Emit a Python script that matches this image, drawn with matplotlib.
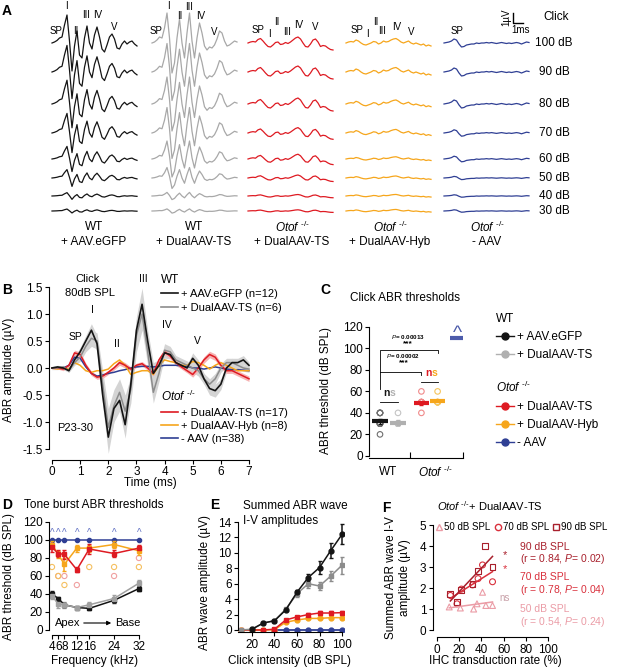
import numpy as np
import matplotlib
matplotlib.use("Agg")
import matplotlib.pyplot as plt
from matplotlib.lines import Line2D
from matplotlib.patches import FancyArrowPatch

plt.rcParams['font.family'] = ['Liberation Sans', 'DejaVu Sans']
plt.rcParams['font.size'] = 8
plt.rcParams['axes.unicode_minus'] = False
plt.rcParams['mathtext.fontset'] = 'custom'
plt.rcParams['mathtext.rm'] = 'Liberation Sans'
plt.rcParams['mathtext.it'] = 'Liberation Sans:italic'
plt.rcParams['mathtext.bf'] = 'Liberation Sans:bold'
plt.rcParams['axes.linewidth'] = 0.8

W, H = 619, 669

BLACK = "#141414"
GRAY = "#a8a8a8"
RED = "#de1a22"
ORANGE = "#f6a61c"
BLUE = "#2f3f94"
OTOF = r"$\mathit{Otof}^{\ \mathrm{‐/‐}}$"

# ---------------- panel A: example traces at 100 dB (uV) + gain per level
a_time = np.arange(0, 8.51, 0.25)
a_levels = ["100 dB", "90 dB", "80 dB", "70 dB", "60 dB", "50 dB", "40 dB", "30 dB"]
a_black = [0.0, 0.1, 0.25, 0.5, 0.6, 1.8, 2.8, 0.2, -2.8, -0.3, 1.2, -1.2, -1.5, 0.5, 1.7, 0.0, -0.6, 0.8,
           1.6, 0.6, -0.6, -0.9, -0.2, 0.6, 0.9, 0.4, -0.5, -0.6, -0.1, 0.2, -0.1, 0.1, 0.2, -0.1, -0.3]
a_gray = [0.0, 0.1, 0.3, 0.6, 0.5, 1.5, 3.0, 0.5, -3.0, -2.0, 0.5, 2.4, 0.0, -1.5, 1.0, 3.0, 0.2, -1.5,
          0.5, 2.0, 1.0, -0.3, -0.7, -0.4, -0.5, -0.2, 0.4, 1.2, 1.0, 0.2, -0.3, -0.2, 0.0, 0.2, 0.1]
a_red = [0.0, 0.1, 0.15, 0.1, 0.35, 0.45, 0.2, -0.1, -0.35, -0.4, -0.2, 0.05, 0.1, -0.15, -0.1, 0.05, -0.05,
         0.1, 0.3, 0.5, 0.6, 0.4, 0.0, -0.35, -0.4, -0.1, 0.3, 0.4, 0.1, -0.35, -0.25, -0.3, -0.5, -0.65, -0.7]
a_yellow = [0.0, 0.1, 0.15, 0.1, 0.3, 0.2, 0.0, -0.15, -0.2, -0.1, 0.0, 0.15, 0.1, -0.1, 0.0, 0.2, 0.1,
            0.15, 0.3, 0.4, 0.45, 0.3, 0.1, 0.0, 0.1, 0.2, 0.0, -0.1, 0.0, -0.1, -0.2, -0.1, -0.3, -0.2, -0.3]
a_blue = [0.0, 0.05, 0.1, 0.2, 0.4, 0.3, -0.1, -0.4, -0.35, -0.2, -0.15, -0.1, -0.1, 0.0, -0.05, 0.0, 0.0,
          0.05, 0.0, 0.05, 0.0, -0.05, 0.0, 0.05, 0.0, -0.05, 0.0, -0.05, 0.0, 0.05, 0.0, -0.1, 0.0, 0.1, 0.05]
a_gain_black = [1.0, 0.95, 0.85, 0.7, 0.45, 0.3, 0.12, 0.07]
a_gain_gray = [1.0, 0.95, 0.9, 0.85, 0.6, 0.35, 0.12, 0.07]
a_gain_red = [1.0, 1.0, 1.0, 0.9, 0.8, 0.5, 0.25, 0.2]
a_gain_yellow = [1.0, 1.0, 0.9, 0.8, 0.5, 0.45, 0.35, 0.35]
a_gain_blue = [1.0, 1.0, 1.0, 0.8, 0.7, 0.4, 0.3, 0.3]

# ---------------- panel B: mean click ABR at 80 dB (uV)
b_time = np.arange(0, 7.01, 0.2)
b_black = [0.0, 0.02, 0.0, -0.05, 0.15, 0.3, 0.5, 0.7, 0.45, -0.5, -1.28, -0.75, -0.6, -1.05, -0.3, 0.7, 1.18, 0.5,
           -0.1, 0.05, 0.28, 0.25, 0.1, 0.05, 0.0, 0.18, 0.05, -0.2, -0.38, -0.42, -0.3, 0.0, 0.1, 0.1, 0.15, 0.05]
b_black_sem = [0.03, 0.03, 0.03, 0.03, 0.05, 0.08, 0.1, 0.12, 0.15, 0.2, 0.3, 0.25, 0.2, 0.25, 0.2, 0.25, 0.3, 0.2,
               0.2, 0.1, 0.1, 0.08, 0.06, 0.06, 0.06, 0.1, 0.1, 0.1, 0.12, 0.12, 0.1, 0.08, 0.08, 0.08, 0.08, 0.06]
b_gray = [0.0, 0.0, 0.02, -0.05, 0.1, 0.2, 0.4, 0.55, 0.5, -0.3, -1.1, -0.7, -0.45, -0.8, -0.4, 0.6, 1.0, 0.3,
          -0.45, -0.1, 0.33, 0.3, 0.15, 0.1, 0.05, 0.0, -0.05, -0.2, -0.3, -0.2, 0.0, 0.1, 0.1, 0.05, 0.0, -0.02]
b_gray_sem = [0.03, 0.03, 0.03, 0.03, 0.05, 0.08, 0.1, 0.15, 0.15, 0.25, 0.35, 0.3, 0.25, 0.3, 0.25, 0.3, 0.3, 0.25,
              0.2, 0.15, 0.12, 0.1, 0.08, 0.08, 0.08, 0.08, 0.1, 0.1, 0.1, 0.1, 0.08, 0.08, 0.08, 0.06, 0.06, 0.06]
b_red = [0.0, 0.0, -0.02, 0.05, 0.28, 0.25, 0.05, -0.1, -0.17, -0.15, -0.08, 0.0, 0.1, 0.05, -0.02, 0.05, 0.08, 0.0,
         -0.1, 0.15, 0.3, 0.22, 0.1, 0.02, -0.05, -0.12, 0.0, 0.15, 0.25, 0.2, 0.05, -0.05, -0.05, -0.1, -0.15, -0.2]
b_red_sem = [0.02, 0.02, 0.03, 0.03, 0.05, 0.05, 0.04, 0.04, 0.04, 0.04, 0.04, 0.04, 0.05, 0.05, 0.04, 0.04, 0.04, 0.04,
             0.05, 0.05, 0.05, 0.05, 0.04, 0.04, 0.04, 0.05, 0.05, 0.06, 0.06, 0.06, 0.05, 0.05, 0.05, 0.05, 0.05, 0.05]
b_yellow = [0.0, -0.02, 0.0, -0.02, 0.1, 0.05, -0.05, -0.08, -0.05, -0.05, -0.02, 0.08, 0.15, 0.05, -0.12, -0.08, -0.05,
            -0.05, -0.12, 0.05, 0.15, 0.12, 0.1, 0.05, 0.05, 0.12, 0.1, 0.05, -0.02, 0.05, 0.1, 0.05, 0.0, -0.05, -0.05, -0.05]
b_blue = [0.0, 0.0, 0.0, 0.05, 0.2, 0.18, 0.02, -0.1, -0.15, -0.13, -0.1, -0.08, -0.05, -0.03, 0.0, 0.02, 0.03, 0.03,
          0.02, 0.03, 0.05, 0.05, 0.05, 0.04, 0.03, 0.0, 0.0, -0.02, 0.0, 0.02, 0.0, -0.02, -0.03, -0.03, -0.04, -0.05]

# ---------------- panel C: click thresholds (dB SPL)
c_black_pts = [40, 40, 40, 40, 30, 30, 30, 30, 30, 20]
c_gray_pts = [40, 30, 30, 30, 30, 30]
c_red_pts = [60, 50, 50, 50, 50, 50, 50, 40]
c_yellow_pts = [60, 50, 50, 50, 50, 50]
c_means = [32, 31, 49, 51, 110]
c_sems = [2.5, 2.0, 1.5, 1.0, 0.0]

# ---------------- panel D: tone burst thresholds (dB SPL)
d_freq = [4, 6, 8, 12, 16, 24, 32]
d_black = [40, 35, 28, 25, 24, 33, 46]
d_black_err = [3, 2, 2, 1, 2, 3, 3]
d_gray = [38, 29, 28, 25, 28, 35, 52]
d_gray_err = [3, 4, 3, 2, 3, 4, 4]
d_red = [92, 85, 84, 67, 90, 85, 91]
d_red_err = [5, 4, 5, 3, 6, 4, 4]
d_yellow = [95, 84, 73, 91, 91, 95, 88]
d_yellow_err = [4, 4, 7, 4, 4, 4, 5]
d_blue = [100, 100, 100, 100, 100, 100, 100]
d_red_pts_f = [6, 8, 12, 24, 32]
d_red_pts = [60, 60, 50, 60, 80]
d_yel_pts_f = [4, 6, 8, 16, 24, 32]
d_yel_pts = [70, 60, 50, 70, 70, 70]

# ---------------- panel E: summed wave I-V amplitude (uV)
e_lvl = [10, 20, 30, 40, 50, 60, 70, 80, 90, 100]
e_black = [None, 0.1, 0.9, 1.2, 2.6, 4.9, 6.8, 8.1, 10.3, 12.4]
e_black_err = [0, 0.05, 0.1, 0.1, 0.15, 0.3, 0.5, 0.9, 1.0, 1.3]
e_gray = [0.0, 0.1, 0.9, 1.2, 2.7, 4.7, 6.0, 5.7, 7.0, 8.4]
e_gray_err = [0.03, 0.05, 0.1, 0.1, 0.2, 0.4, 0.6, 0.5, 0.7, 1.1]
e_red = [0.0, 0.0, 0.0, 0.1, 1.3, 1.7, 2.0, 2.2, 2.2, 2.25]
e_red_err = [0, 0, 0, 0.05, 0.15, 0.15, 0.15, 0.2, 0.2, 0.2]
e_yellow = [0.0, 0.0, 0.0, 0.05, 1.0, 1.3, 1.5, 1.5, 1.6, 1.6]
e_yellow_err = [0, 0, 0, 0.03, 0.1, 0.1, 0.1, 0.1, 0.1, 0.1]
e_blue = [None, None, None, 0.0, 0.0, 0.0, 0.0, 0.0, 0.0, 0.0]

# ---------------- panel F: amplitude vs IHC transduction rate
f90_x = [12, 18, 22, 32, 37, 43, 50]
f90_y = [1.7, 1.35, 1.9, 2.2, 2.8, 4.0, 3.0]
f70_x = [12, 18, 22, 32, 37, 41, 50]
f70_y = [1.65, 1.25, 1.95, 2.15, 2.45, 3.1, 2.3]
f50_x = [11, 21, 33, 36, 41, 44, 50]
f50_y = [1.1, 1.05, 1.0, 1.25, 1.8, 1.17, 1.17]

fig = plt.figure(figsize=(W / 100, H / 100), dpi=100)


def px_axes(l, t, r, b):
    return fig.add_axes([l / W, 1 - b / H, (r - l) / W, (b - t) / H])


def ftext(x, y, s, **kw):
    kw.setdefault("ha", "center")
    kw.setdefault("va", "center")
    return fig.text(x / W, 1 - y / H, s, **kw)


def style(ax, xb, yb):
    ax.spines["top"].set_visible(False)
    ax.spines["right"].set_visible(False)
    ax.spines["bottom"].set_bounds(*xb)
    ax.spines["left"].set_bounds(*yb)
    ax.tick_params(length=3, width=0.8, pad=1.5, labelsize=8.5)


# ================= A
axA = px_axes(0, 0, W, 250)
axA.set_xlim(-5.2, 56.7)
axA.set_ylim(-20.7, 4.3)
axA.axis("off")
col_x = [0, 10, 19.6, 29.4, 39.2]
row_y = [0, -2.9, -6.1, -9.0, -11.6, -13.5, -15.3, -16.8]
groups = [(a_black, a_gain_black, BLACK), (a_gray, a_gain_gray, GRAY), (a_red, a_gain_red, RED),
          (a_yellow, a_gain_yellow, ORANGE), (a_blue, a_gain_blue, BLUE)]
for (trace, gains, color), x0 in zip(groups, col_x):
    for g, y0 in zip(gains, row_y):
        axA.plot(a_time + x0, np.array(trace) * g + y0, color=color, lw=0.9)
axA.plot([46.1, 46.1, 47.1], [3.0, 2.0, 2.0], color="k", lw=1)
ftext(506, 17, "1µV", rotation=90, fontsize=7)
ftext(521, 30, "1ms", fontsize=7)
ftext(556, 17, "Click", fontsize=8.5)
for lab, y in zip(a_levels, [43, 72, 104, 133, 159, 178, 196, 211]):
    ftext(554, y, lab, fontsize=8.5)

peak_fs = 7
for s, x, y in [("SP", 56, 31), ("I", 66, 6), ("II", 76, 31), ("III", 86, 15), ("IV", 98, 15), ("V", 114, 27),
                ("SP", 156, 31), ("I", 168, 6), ("II", 180, 16), ("III", 189, 7), ("IV", 201, 16), ("V", 214, 32),
                ("SP", 258, 30), ("I", 269, 34), ("II", 277, 22), ("III", 287, 32), ("IV", 299, 25), ("V", 315, 27),
                ("SP", 357, 30), ("I", 367, 34), ("II", 376, 22), ("III", 382, 31), ("IV", 397, 27), ("V", 411, 32),
                ("SP", 457, 31)]:
    ftext(x, y, s, fontsize=peak_fs)

for x, top, bottom in [(94, "WT", "+ AAV.eGFP"), (194, "WT", "+ DualAAV-TS"), (292, OTOF, "+ DualAAV-TS"),
                       (390, OTOF, "+ DualAAV-Hyb"), (487, OTOF, "- AAV")]:
    ftext(x, 227, top, fontsize=8.5)
    ftext(x, 242, bottom, fontsize=8.5)

# ================= B
axB = px_axes(49.2, 281.6, 250.4, 459.8)
axB.set_xlim(-0.1, 7.05)
axB.set_ylim(-1.7, 1.6)
style(axB, (0, 7), (-1.5, 1.5))
for m, s in [(b_black, b_black_sem), (b_gray, b_gray_sem)]:
    m = np.array(m); s = np.array(s)
    axB.fill_between(b_time, m - s, m + s, color="#d4d4d4", lw=0)
rm = np.array(b_red); rs = np.array(b_red_sem)
axB.fill_between(b_time, rm - rs, rm + rs, color="#f6b3b3", lw=0)
axB.plot(b_time, b_blue, color=BLUE, lw=1.1)
axB.plot(b_time, b_yellow, color=ORANGE, lw=1.1)
axB.plot(b_time, b_red, color=RED, lw=1.1)
axB.plot(b_time, b_gray, color="#8c8c8c", lw=1.1)
axB.plot(b_time, b_black, color=BLACK, lw=1.2)
axB.set_xticks(range(8))
yt = [-1.5, -1.0, -0.5, 0.0, 0.5, 1.0, 1.5]
axB.set_yticks(yt)
axB.set_yticklabels(["%.1f" % v for v in yt])
ftext(150, 483, "Time (ms)", fontsize=8.5)
ftext(9, 370, "ABR amplitude (µV)", rotation=90, fontsize=8.5)
ftext(88, 279, "Click", fontsize=8)
ftext(90, 293, "80dB SPL", fontsize=8)
for s, x, y in [("I", 92, 310), ("SP", 75, 337), ("II", 117, 344), ("III", 143, 279), ("IV", 167, 325),
                ("V", 197, 341)]:
    ftext(x, y, s, fontsize=7.5)
ftext(57, 428, "P23-30", ha="left", fontsize=8)

legkw = dict(loc="upper left", bbox_transform=fig.transFigure, frameon=False, fontsize=8, title_fontsize=8.5,
             handlelength=1.5, handletextpad=0.3, borderpad=0, borderaxespad=0, alignment="left")
lb1 = axB.legend(handles=[Line2D([], [], color=BLACK, lw=1.2), Line2D([], [], color="#8c8c8c", lw=1.2)],
                 labels=["+ AAV.eGFP (n=12)", "+ DualAAV-TS (n=6)"], title="WT",
                 bbox_to_anchor=(161 / W, 1 - 274 / H), labelspacing=0.3, **legkw)
axB.add_artist(lb1)
axB.legend(handles=[Line2D([], [], color=RED, lw=1.2), Line2D([], [], color=ORANGE, lw=1.2),
                    Line2D([], [], color=BLUE, lw=1.2)],
           labels=["+ DualAAV-TS (n=17)", "+ DualAAV-Hyb (n=8)", "- AAV (n=38)"], title=OTOF,
           bbox_to_anchor=(161 / W, 1 - 389 / H), labelspacing=0.3, **legkw)

# ================= C
axC = px_axes(369, 320.5, 463, 458)
axC.set_xlim(-0.611, 4.611)
axC.set_ylim(-2, 126)
style(axC, (-0.611, 4.611), (0, 120))
axC.set_yticks(range(0, 121, 20))
axC.set_xticks([1.67, 4.6])
axC.set_xticklabels([])
axC.tick_params(axis="x", direction="in", length=4)
c_pos = [0, 1, 2.3, 3.2, 4.3]
pale = ["#6e6e6e", "#c4c4c4", "#f08a8a", "#f5c45a"]
for pos, pts, pc in zip(c_pos[:4], [c_black_pts, c_gray_pts, c_red_pts, c_yellow_pts], pale):
    axC.scatter([pos] * len(pts), pts, s=16, facecolors="none", edgecolors=pc, linewidths=0.8, zorder=2)
for pos, m, s, col in zip(c_pos, c_means, c_sems, [BLACK, "#b0b0b0", RED, ORANGE, "#4d5cab"]):
    axC.hlines(m, pos - 0.42, pos + 0.42, color=col, lw=3, zorder=3)
    if s > 0:
        axC.errorbar(pos, m, yerr=s, color=col, capsize=1.5, lw=0.9, zorder=3)
axC.text(c_pos[4], c_means[4] + 4, "^", ha="center", va="center", fontsize=14, color="#4d5cab")
axC.plot([0, 0, 3.2, 3.2], [62, 99, 99, 96], color="k", lw=0.6)
axC.plot([0, 2.3, 2.3], [78, 78, 75], color="k", lw=0.6)
axC.plot([0, 1], [50, 50], color="k", lw=0.6)
axC.plot([2.3, 3.2], [69, 69], color="k", lw=0.6)
ftext(408, 337, r"$\it{P}$= 0.00013", fontsize=4.5, weight="bold")
ftext(408, 344, "***", fontsize=6, weight="bold")
ftext(403, 356, r"$\it{P}$= 0.00002", fontsize=4.5, weight="bold")
ftext(404, 363, "***", fontsize=6, weight="bold")
ftext(386, 393, "n", fontsize=7.5, weight="bold", color=BLACK)
ftext(392, 393, "s", fontsize=7.5, weight="bold", color="#b0b0b0")
ftext(428, 373, "n", fontsize=7.5, weight="bold", color=RED)
ftext(434, 373, "s", fontsize=7.5, weight="bold", color=ORANGE)
ftext(350, 298, "Click ABR thresholds", ha="left", fontsize=8.5)
ftext(326, 390, "ABR threshold (dB SPL)", rotation=90, fontsize=8.5)
ftext(388, 472, "WT", fontsize=8.5)
ftext(435, 472, OTOF, fontsize=8.5)

legkw2 = dict(legkw)
legkw2["fontsize"] = 8.5
legkw2["title_fontsize"] = 8.5
lc1 = axC.legend(handles=[Line2D([], [], color=BLACK, marker="o", ms=5, lw=1),
                          Line2D([], [], color="#b0b0b0", marker="o", ms=5, lw=1)],
                 labels=["+ AAV.eGFP", "+ DualAAV-TS"], title="WT",
                 bbox_to_anchor=(496 / W, 1 - 313 / H), labelspacing=0.5, **legkw2)
axC.add_artist(lc1)
axC.legend(handles=[Line2D([], [], color=RED, marker="o", ms=5, lw=1),
                    Line2D([], [], color=ORANGE, marker="o", ms=5, lw=1),
                    Line2D([], [], color=BLUE, marker="o", ms=5, lw=1)],
           labels=["+ DualAAV-TS", "+ DualAAV-Hyb", "- AAV"], title=OTOF,
           bbox_to_anchor=(496 / W, 1 - 380 / H), labelspacing=0.5, **legkw2)

# ================= D
axD = px_axes(48.9, 520.2, 142, 634.5)
axD.set_xlim(3, 33)
axD.set_ylim(-5, 122)
style(axD, (4, 32), (0, 120))
axD.set_xticks(d_freq)
axD.set_yticks(range(0, 121, 20))
axD.plot(d_freq, d_blue, color=BLUE, lw=1.1, marker="o", ms=3)
for f, v in zip(d_freq, d_blue):
    axD.text(f, v + 2, "^", ha="center", va="bottom", fontsize=7, color="#6272c4")
axD.scatter(d_red_pts_f, d_red_pts, s=14, facecolors="none", edgecolors="#f0a0a0", linewidths=0.8)
axD.scatter(d_yel_pts_f, d_yel_pts, s=14, facecolors="none", edgecolors="#f5c060", linewidths=0.8)
axD.errorbar(d_freq, d_yellow, yerr=d_yellow_err, color=ORANGE, marker="s", ms=3.5, lw=1.1, capsize=1.5)
axD.errorbar(d_freq, d_red, yerr=d_red_err, color=RED, marker="s", ms=3, lw=1.1, capsize=1.5)
axD.errorbar(d_freq, d_black, yerr=d_black_err, color=BLACK, marker="s", ms=3.5, lw=1.1, capsize=1.5)
axD.errorbar(d_freq, d_gray, yerr=d_gray_err, color="#a0a0a0", marker="s", ms=3.5, lw=1.1, capsize=1.5)
ftext(24, 505, "Tone burst ABR thresholds", ha="left", fontsize=8.5)
ftext(9, 577, "ABR threshold (dB SPL)", rotation=90, fontsize=8.5)
ftext(95, 661, "Frequency (kHz)", fontsize=8.5)
ftext(55, 623, "Apex", ha="left", fontsize=8)
ftext(140, 623, "Base", ha="right", fontsize=8)
fig.add_artist(FancyArrowPatch((81 / W, 1 - 623 / H), (114 / W, 1 - 623 / H), transform=fig.transFigure,
                               arrowstyle="-|>", mutation_scale=6, lw=0.8, color="k"))

# ================= E
axE = px_axes(237.9, 519.7, 344.3, 632.3)
axE.set_xlim(7.5, 102)
axE.set_ylim(-0.3, 14.3)
style(axE, (7.5, 100), (0, 14))
axE.set_xticks([20, 40, 60, 80, 100])
axE.set_yticks(range(0, 15, 2))
e_arr = lambda v: np.array([np.nan if x is None else x for x in v], dtype=float)
axE.plot(e_lvl, e_arr(e_blue), color=BLUE, lw=1.3, marker="o", ms=3.5)
axE.errorbar(e_lvl, e_arr(e_yellow), yerr=e_yellow_err, color=ORANGE, marker="o", ms=3.5, lw=1.1, capsize=1.5)
axE.errorbar(e_lvl, e_arr(e_red), yerr=e_red_err, color=RED, marker="s", ms=3.5, lw=1.1, capsize=1.5)
axE.errorbar(e_lvl, e_arr(e_gray), yerr=e_gray_err, color="#8c8c8c", marker="s", ms=3.5, lw=1.1, capsize=1.5)
axE.errorbar(e_lvl, e_arr(e_black), yerr=e_black_err, color=BLACK, marker="o", ms=3.5, lw=1.1, capsize=1.5)
ftext(243, 506, "Summed ABR wave", ha="left", fontsize=8.5)
ftext(243, 521, "I-V amplitudes", ha="left", fontsize=8.5)
ftext(205, 582, "ABR wave amplitude (µV)", rotation=90, fontsize=8.5)
ftext(290, 661, "Click intensity (dB SPL)", fontsize=8.5)

# ================= F
axF = px_axes(432.6, 521.9, 550.2, 637.4)
axF.set_xlim(-4, 102)
axF.set_ylim(-0.35, 5.15)
style(axF, (0, 100), (0, 5))
axF.set_xticks(range(0, 101, 20))
axF.set_yticks(range(0, 6))
C50, C70, C90 = "#eb9ca6", "#d9303c", "#a8202c"
for xs, ys, col, mk in [(f50_x, f50_y, C50, "^"), (f70_x, f70_y, C70, "o"), (f90_x, f90_y, C90, "s")]:
    axF.scatter(xs, ys, s=18, marker=mk, facecolors="none", edgecolors=col, linewidths=0.8)
    k, b = np.polyfit(xs, ys, 1)
    xl = np.array([min(xs), max(xs)])
    axF.plot(xl, k * xl + b, color=col, lw=1.1)
axF.legend(handles=[Line2D([], [], ls="none", marker=m, mfc="none", mec=c, ms=4.5)
                    for m, c in [("^", C50), ("o", C70), ("s", C90)]],
           labels=["50 dB SPL", "70 dB SPL", "90 dB SPL"], ncol=3, loc="upper left",
           bbox_to_anchor=(436 / W, 1 - 522 / H), bbox_transform=fig.transFigure, frameon=False, fontsize=7,
           handlelength=0.7, handletextpad=0.15, columnspacing=0.4, borderpad=0, borderaxespad=0)
ftext(437, 506, OTOF + "+ DualAAV-TS", ha="left", fontsize=8)
ftext(398, 578, "Summed ABR wave I-V\namplitude (µV)", rotation=90, fontsize=8.5, linespacing=1.15)
ftext(495, 661, "IHC transduction rate (%)", fontsize=8.5)
ftext(520, 547, "90 dB SPL", ha="left", fontsize=7.5, color=C90)
ftext(520, 559, r"(r = 0.84, $\it{P}$= 0.02)", ha="left", fontsize=7.5, color=C90)
ftext(520, 577, "70 dB SPL", ha="left", fontsize=7.5, color=C70)
ftext(520, 590, r"(r = 0.78, $\it{P}$= 0.04)", ha="left", fontsize=7.5, color=C70)
ftext(520, 609, "50 dB SPL", ha="left", fontsize=7.5, color=C50)
ftext(520, 622, r"(r = 0.54, $\it{P}$= 0.24)", ha="left", fontsize=7.5, color=C50)
ftext(505, 555, "*", fontsize=8, color=C90)
ftext(505, 569, "*", fontsize=8, color=C70)
ftext(505, 598, "ns", fontsize=7, color="#c8a0a8")

# panel letters
for s, x, y in [("A", 7, 11), ("B", 7, 290), ("C", 325, 290), ("D", 7, 505), ("E", 215, 505), ("F", 386, 508)]:
    ftext(x, y, s, fontsize=10, weight="bold")

fig.savefig("out.png", dpi=100)
